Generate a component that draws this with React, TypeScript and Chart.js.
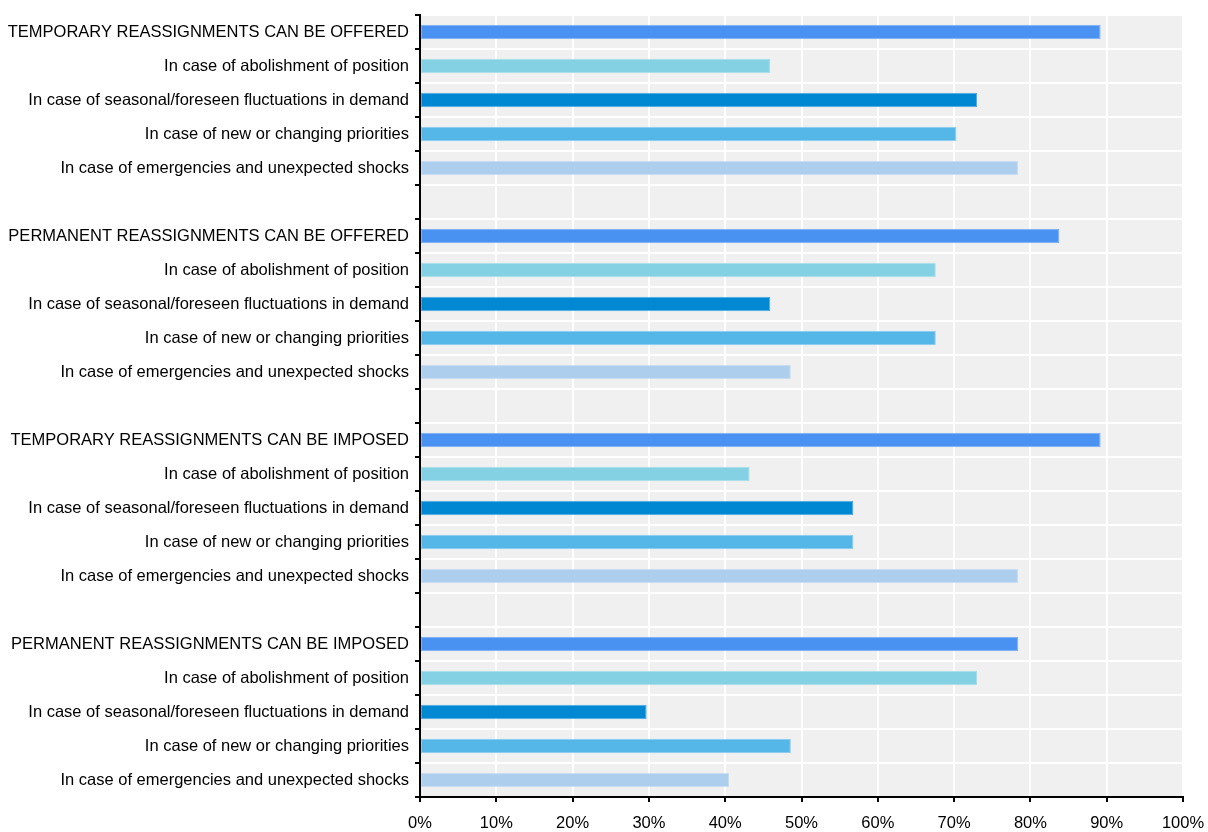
import React, { useEffect, useRef } from "react";
import { Chart, registerables } from "chart.js";

Chart.register(...registerables);

const groupTitles = [
  "TEMPORARY REASSIGNMENTS CAN BE OFFERED",
  "PERMANENT REASSIGNMENTS CAN BE OFFERED",
  "TEMPORARY REASSIGNMENTS CAN BE IMPOSED",
  "PERMANENT REASSIGNMENTS CAN BE IMPOSED",
];

const caseLabels = [
  "In case of abolishment of position",
  "In case of seasonal/foreseen fluctuations in demand",
  "In case of new or changing priorities",
  "In case of emergencies and unexpected shocks",
];

// [group total, abolishment, seasonal, new priorities, emergencies]
const temporaryOffered = [89.2, 45.9, 73.0, 70.3, 78.4];
const permanentOffered = [83.8, 67.6, 45.9, 67.6, 48.6];
const temporaryImposed = [89.2, 43.2, 56.8, 56.8, 78.4];
const permanentImposed = [78.4, 73.0, 29.7, 48.6, 40.5];

const rowColors = ["#4A92F2", "#83D1E3", "#0089D2", "#54B7E8", "#AECEEE"];
const rowBorders = ["#7FB1F5", "#A6DEEB", "#4DAAE0", "#86CCEF", "#C6DDF3"];

const xTicks = [0, 10, 20, 30, 40, 50, 60, 70, 80, 90, 100];

const groupValues = [temporaryOffered, permanentOffered, temporaryImposed, permanentImposed];

const labels: string[] = [];
const values: (number | null)[] = [];
const colors: string[] = [];
const borders: string[] = [];
groupValues.forEach((g, gi) => {
  if (gi > 0) {
    labels.push("");
    values.push(null);
    colors.push("rgba(0,0,0,0)");
    borders.push("rgba(0,0,0,0)");
  }
  labels.push(groupTitles[gi]);
  values.push(g[0]);
  colors.push(rowColors[0]);
  borders.push(rowBorders[0]);
  caseLabels.forEach((c, ci) => {
    labels.push(c);
    values.push(g[ci + 1]);
    colors.push(rowColors[ci + 1]);
    borders.push(rowBorders[ci + 1]);
  });
});

const FONT = "'Liberation Sans', Arial, sans-serif";

const bgPlugin = {
  id: "plotBg",
  beforeDraw(chart: any) {
    const { ctx, chartArea } = chart;
    if (!chartArea) return;
    ctx.save();
    ctx.fillStyle = "#f0f0f0";
    ctx.fillRect(chartArea.left, chartArea.top, chartArea.right - chartArea.left, chartArea.bottom - chartArea.top);
    ctx.restore();
  },
};

export default function App() {
  const ref = useRef<HTMLCanvasElement | null>(null);
  useEffect(() => {
    if (!ref.current) return;
    const chart = new Chart(ref.current, {
      type: "bar",
      data: {
        labels,
        datasets: [
          {
            data: values,
            backgroundColor: colors,
            borderColor: borders,
            borderWidth: 1,
            borderSkipped: false,
            categoryPercentage: 1,
            barPercentage: 0.43,
          },
        ],
      },
      options: {
        indexAxis: "y",
        animation: false,
        responsive: false,
        maintainAspectRatio: false,
        layout: { padding: { top: 15, right: 25, bottom: 0, left: 0 } },
        plugins: {
          legend: { display: false },
          tooltip: { enabled: false },
        },
        scales: {
          x: {
            min: 0,
            max: 100,
            afterBuildTicks: (scale: any) => {
              scale.ticks = xTicks.map((v) => ({ value: v }));
            },
            afterFit: (scale: any) => {
              scale.height = 35;
              scale.paddingLeft = 0;
              scale.paddingRight = 0;
            },
            ticks: {
              color: "#000",
              font: { family: FONT, size: 16.5 },
              padding: 12,
              maxRotation: 0,
              autoSkip: false,
              callback: (v: any) => v + "%",
            },
            grid: {
              color: "#ffffff",
              lineWidth: 2,
              tickColor: "#000",
              tickLength: 5,
              tickWidth: 2,
            },
            border: { color: "#000", width: 2 },
          },
          y: {
            afterFit: (scale: any) => {
              scale.width = 420;
              scale.paddingTop = 0;
              scale.paddingBottom = 0;
            },
            ticks: {
              color: "#000",
              font: { family: FONT, size: 16.5 },
              padding: 6,
              autoSkip: false,
            },
            grid: {
              offset: true,
              color: "#ffffff",
              lineWidth: 2,
              tickColor: "#000",
              tickLength: 5,
              tickWidth: 2,
            },
            border: { color: "#000", width: 2 },
          },
        },
      },
      plugins: [bgPlugin],
    } as any);
    return () => chart.destroy();
  }, []);
  return (
    <div style={{ position: "absolute", left: 0, top: 0, width: 1208, height: 832, background: "#fff" }}>
      <canvas ref={ref} width={1208} height={832} style={{ width: 1208, height: 832 }} />
    </div>
  );
}
